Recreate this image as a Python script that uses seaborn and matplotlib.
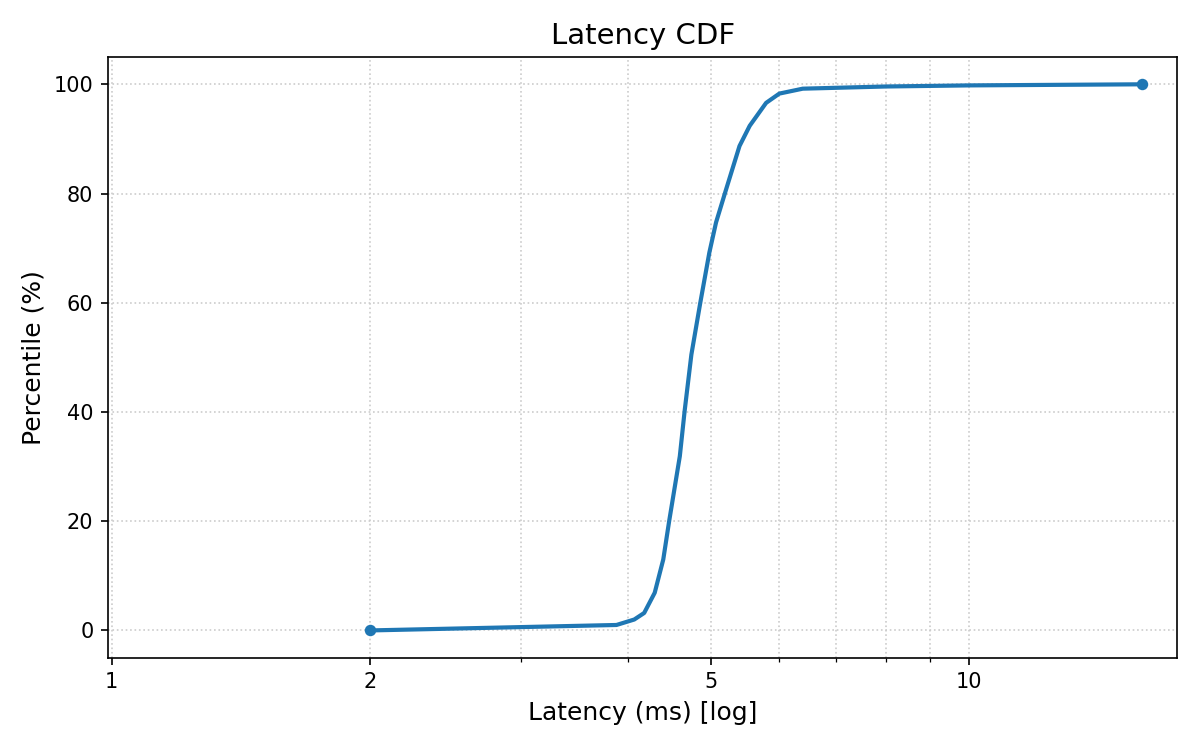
import matplotlib
matplotlib.use("Agg")
import matplotlib.pyplot as plt
import matplotlib.ticker as mticker
import seaborn as sns
import pandas as pd

# latency (ms) at each percentile
latency_ms = [2.00, 3.88, 4.07, 4.18, 4.30, 4.40, 4.47, 4.60, 4.66, 4.745, 4.86,
              4.98, 5.07, 5.21, 5.40, 5.55, 5.80, 6.01, 6.40, 8.0, 10.0, 15.9]
percentile = [0, 1.0, 2.0, 3.2, 6.9, 13, 20, 31.9, 40.2, 50.5, 60,
              69.2, 74.7, 80.8, 88.7, 92.4, 96.6, 98.3, 99.2, 99.6, 99.8, 100]
x_ticks = [1, 2, 5, 10]

sns.set_style("ticks")
plt.rcParams["font.family"] = ["DejaVu Sans"]
plt.rcParams["text.color"] = "black"
plt.rcParams["axes.labelcolor"] = "black"
plt.rcParams["xtick.color"] = "black"
plt.rcParams["ytick.color"] = "black"

df = pd.DataFrame({"latency": latency_ms, "pct": percentile})

fig, ax = plt.subplots(figsize=(8, 5), dpi=150)
sns.lineplot(data=df, x="latency", y="pct", ax=ax, color="#1f77b4", linewidth=2,
             marker="o", markersize=5.5, markeredgewidth=0,
             markevery=[0, len(df) - 1], sort=False)

ax.set_xscale("log")
ax.set_xlim(0.99, 17.5)
ax.set_ylim(-5, 105)
ax.set_xticks(x_ticks)
ax.xaxis.set_major_formatter(mticker.ScalarFormatter())
ax.xaxis.set_minor_formatter(mticker.NullFormatter())
ax.grid(True, which="both", linestyle=":", color="#cccccc", linewidth=0.8)

for s in ax.spines.values():
    s.set_color("black")
    s.set_linewidth(0.8)
ax.tick_params(axis="both", which="major", labelsize=10, color="black", length=3.5, width=0.8)
ax.tick_params(axis="x", which="minor", length=2, width=0.6, color="black")

ax.set_xlabel("Latency (ms) [log]", fontsize=12)
ax.set_ylabel("Percentile (%)", fontsize=12)
ax.set_title("Latency CDF", fontsize=14)

plt.subplots_adjust(left=0.09, right=0.981, top=0.924, bottom=0.123)
plt.savefig("out.png")
